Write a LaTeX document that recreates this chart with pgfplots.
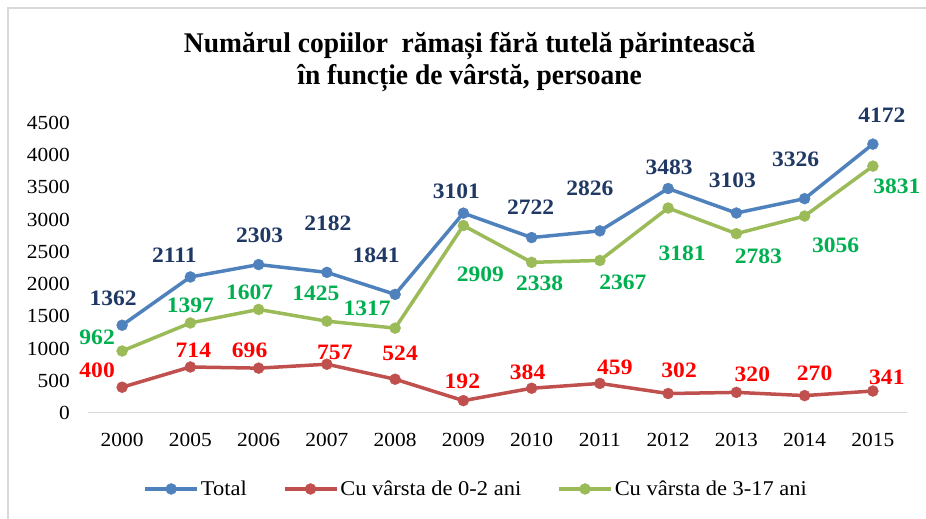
\documentclass[border=0pt]{standalone}
\usepackage{pgfplots}
\pgfplotsset{compat=1.18}
\usepackage{pgfplotstable}
\usepackage{fontspec}
\setmainfont{Liberation Serif}[FakeStretch=1.07]
\newfontfamily\titlefont{Liberation Serif}[FakeStretch=0.965]
\definecolor{cTotal}{HTML}{4F81BD}
\definecolor{cRed}{HTML}{C0504D}
\definecolor{cGreen}{HTML}{9BBB59}
\definecolor{lTotal}{HTML}{1F3864}
\definecolor{lRed}{HTML}{FF0000}
\definecolor{lGreen}{HTML}{00B050}
\definecolor{frameGray}{HTML}{D9D9D9}

\pgfplotstableread{
x y dx dy
0 1362 -9 27
1 2111 -16 22
2 2303 1 29
3 2182 1 49
4 1841 -19 39
5 3101 -7 22
6 2722 -1 30
7 2826 -10 43
8 3483 1 21
9 3103 -4 33
10 3326 -9 39
11 4172 9 29
}\total

\pgfplotstableread{
x y dx dy
0 400 -25 17
1 714 3 17
2 696 -9 18
3 757 8 12
4 524 5 26
5 192 -1 19
6 384 -4 16
7 459 15 16
8 302 11 23
9 320 16 18
10 270 10 22
11 341 14 14
}\young

\pgfplotstableread{
x y dx dy
0 962 -25 14
1 1397 0 18
2 1607 -9 17
3 1425 -11 28
4 1317 -28 20
5 2909 17 -49
6 2338 8 -21
7 2367 23 -22
8 3181 14 -45
9 2783 22 -23
10 3056 31 -29
11 3831 24 -20
}\older

\begin{document}
\begin{tikzpicture}[x=1pt,y=1pt]
\useasboundingbox (0,0) rectangle (926,519);
\draw[frameGray, line width=2pt] (8,0) -- (8,511) -- (926,511);
\begin{axis}[
  at={(88pt,106pt)}, anchor=south west,
  scale only axis, width=819pt, height=290pt,
  xmin=-0.5, xmax=11.5, ymin=0, ymax=4500,
  clip=false,
  axis x line*=bottom, axis y line*=left,
  y axis line style={draw=none},
  x axis line style={draw=frameGray, line width=1pt},
  tick style={draw=none},
  xtick={0,...,11},
  xticklabels={2000,2005,2006,2007,2008,2009,2010,2011,2012,2013,2014,2015},
  ytick={0,500,...,4500},
  /pgf/number format/assume math mode=true,
  /pgf/number format/1000 sep={},
  ticklabel style={font=\fontsize{20}{22}\selectfont, text=black},
  yticklabel style={anchor=east, inner sep=0pt, xshift=-18pt},
  xticklabel style={anchor=north, inner sep=0pt, yshift=-20pt},
  title={Numărul copiilor\ \ rămași fără tutelă părintească\\în funcție de vârstă, persoane},
  title style={at={(0.466,1.19)}, anchor=center, align=center, inner sep=0pt,
    font=\titlefont\bfseries\fontsize{28.5}{32}\selectfont},
  legend columns=3,
  legend style={at={(0.474,-0.262)}, anchor=center, draw=none,
    font=\fontsize{21}{23}\selectfont, inner sep=0pt,
    /tikz/every even column/.append style={column sep=34pt}},
  legend image code/.code={
    \draw[#1, mark repeat=2, mark phase=2] plot coordinates {(0pt,0pt) (26pt,0pt) (52pt,0pt)};
  },
  point meta=explicit symbolic,
  nodes near coords,
  visualization depends on={\thisrow{dx}\as\ldx},
  visualization depends on={\thisrow{dy}\as\ldy},
  every axis plot/.append style={line width=3.5pt, mark=*, mark size=5.5pt, mark options={line width=0.4pt, solid}},
]
\addplot[color=cTotal,
  nodes near coords style={anchor=center, xshift=\ldx pt, yshift=\ldy pt, inner sep=0pt, text=lTotal, font=\bfseries\fontsize{22}{24}\selectfont}]
  table[x=x, y=y, meta=y]{\total};
\addlegendentry{Total}
\addplot[color=cRed,
  nodes near coords style={anchor=center, xshift=\ldx pt, yshift=\ldy pt, inner sep=0pt, text=lRed, font=\bfseries\fontsize{22}{24}\selectfont}]
  table[x=x, y=y, meta=y]{\young};
\addlegendentry{Cu vârsta de 0-2 ani}
\addplot[color=cGreen,
  nodes near coords style={anchor=center, xshift=\ldx pt, yshift=\ldy pt, inner sep=0pt, text=lGreen, font=\bfseries\fontsize{22}{24}\selectfont}]
  table[x=x, y=y, meta=y]{\older};
\addlegendentry{Cu vârsta de 3-17 ani}
\end{axis}
\end{tikzpicture}
\end{document}
